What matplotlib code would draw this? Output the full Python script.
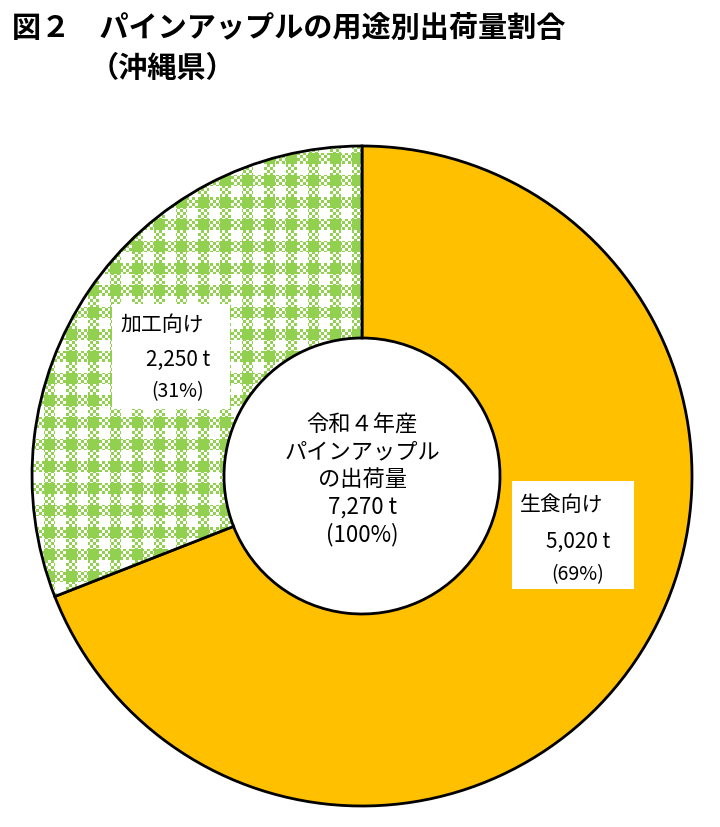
import matplotlib.pyplot as plt
import numpy as np
from matplotlib.patches import Wedge, Rectangle

plt.rcParams['font.family'] = 'Noto Sans CJK JP'

categories = ['生食向け', '加工向け']
values = [5020, 2250]
shares = ['(69%)', '(31%)']
total_label = ['令和４年産', 'パインアップル', 'の出荷量', '7,270 t', '(100%)']

W, H = 720, 828
fig = plt.figure(figsize=(7.2, 8.28), dpi=100)
ax = fig.add_axes([0, 0, 1, 1])
ax.set_xlim(0, W)
ax.set_ylim(H, 0)
ax.axis('off')

cx, cy, R, r = 362, 477, 330, 138
total = sum(values)
# clockwise from top; y axis is inverted so angles go positive clockwise on screen
start = -90.0
wedges = []
for v in values:
    sweep = 360.0 * v / total
    wedges.append((start, start + sweep))
    start += sweep

# 生食向け: solid orange
w0 = Wedge((cx, cy), R, wedges[0][0], wedges[0][1], width=R - r,
           facecolor='#FFC000', edgecolor='black', linewidth=2)
ax.add_patch(w0)

# 加工向け: green gingham texture
yy, xx = np.mgrid[0:H, 0:W]
p = 22
colband = (xx % p) < 11
rowband = (yy % p) < 11
fine = ((xx // 3 + yy // 3) % 2) == 0
green = np.array([0.57, 0.82, 0.31])
img = np.ones((H, W, 3))
img[colband & rowband] = green
img[(colband ^ rowband) & fine] = green
w1 = Wedge((cx, cy), R, wedges[1][0], wedges[1][1], width=R - r,
           facecolor='none', edgecolor='none')
ax.add_patch(w1)
im = ax.imshow(img, extent=(0, W, H, 0), zorder=1)
im.set_clip_path(w1)
ax.add_patch(Wedge((cx, cy), R, wedges[1][0], wedges[1][1], width=R - r,
                   facecolor='none', edgecolor='black', linewidth=2, zorder=3))

# title
ax.text(12, 28, '図２　パインアップルの用途別出荷量割合', fontsize=21,
        fontweight='bold', va='center', ha='left')
ax.text(90, 68, '（沖縄県）', fontsize=21, fontweight='bold', va='center', ha='left')

# center text
ax.text(cx, 480, '\n'.join(total_label), fontsize=16, ha='center', va='center',
        linespacing=1.25, zorder=5)

# labels
ax.add_patch(Rectangle((112, 305), 118, 105, facecolor='white', edgecolor='none', zorder=4))
ax.text(120, 325, categories[1], fontsize=15, ha='left', va='center', zorder=5)
ax.text(178, 360, '2,250 t', fontsize=15, ha='center', va='center', zorder=5)
ax.text(178, 392, shares[1], fontsize=14, ha='center', va='center', zorder=5)

ax.add_patch(Rectangle((512, 482), 122, 108, facecolor='white', edgecolor='none', zorder=4))
ax.text(520, 505, categories[0], fontsize=15, ha='left', va='center', zorder=5)
ax.text(578, 542, '5,020 t', fontsize=15, ha='center', va='center', zorder=5)
ax.text(578, 575, shares[0], fontsize=14, ha='center', va='center', zorder=5)

fig.savefig('out.png', dpi=100)
